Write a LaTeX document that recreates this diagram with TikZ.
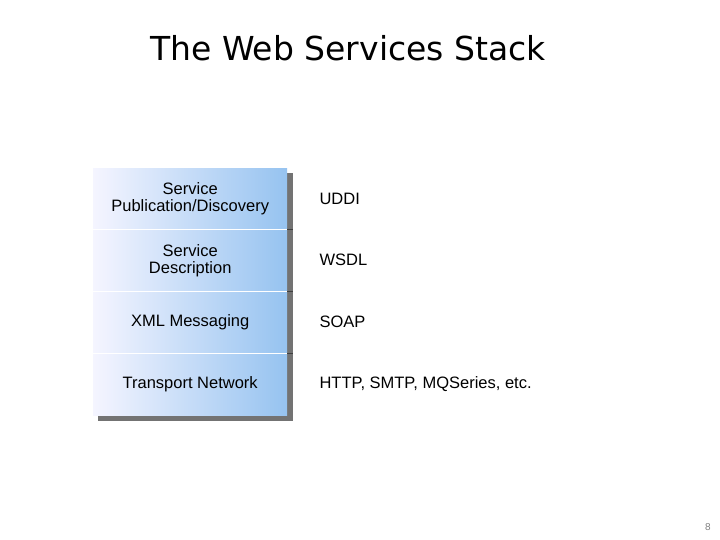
\documentclass[tikz,border=0pt]{standalone}
\usepackage{fontspec}
\setmainfont{Liberation Sans}
\newfontfamily\titlefont{DejaVu Sans}
\begin{document}
\begin{tikzpicture}[x=1pt,y=-1pt,
  layer/.style={minimum width=194pt,minimum height=61pt,inner sep=0pt,anchor=north west,
    left color=blue!4!white,right color={rgb,255:red,150;green,195;blue,240},align=center,
    font=\fontsize{16.5}{19}\selectfont},
  proto/.style={anchor=west,font=\fontsize{16.5}{19}\selectfont},
  sep/.style={draw=black!75,line width=1pt}]
\useasboundingbox (0,0) rectangle (720,540);
\fill[black!55] (98,173) rectangle (293,421);
\node[layer] (l1) at (93,168) {Service\\[-2pt]Publication/Discovery};
\node[layer] (l2) at (93,230) {Service\\[-2pt]Description};
\node[layer] (l3) at (93,292) {XML Messaging};
\node[layer] (l4) at (93,354) {Transport Network};
\draw[white,line width=1pt] (93,229.5) -- (287,229.5) (93,291.5) -- (287,291.5) (93,353.5) -- (287,353.5);
\draw[sep] (l1.south east) -- ++(6,0);
\draw[sep] (l2.south east) -- ++(6,0);
\draw[sep] (l3.south east) -- ++(6,0);
\node[proto] (p1) at (316,199) {UDDI};
\node[proto] (p2) at (316,260) {WSDL};
\node[proto] (p3) at (316,322) {SOAP};
\node[proto] (p4) at (316,384) {HTTP, SMTP, MQSeries, etc.};
\node[font=\titlefont\fontsize{33}{38}\selectfont] (title) at (348,48) {The Web Services Stack};
\node[font=\fontsize{10}{12}\selectfont,text=black!50] (pg) at (708,527) {8};
\end{tikzpicture}
\end{document}
